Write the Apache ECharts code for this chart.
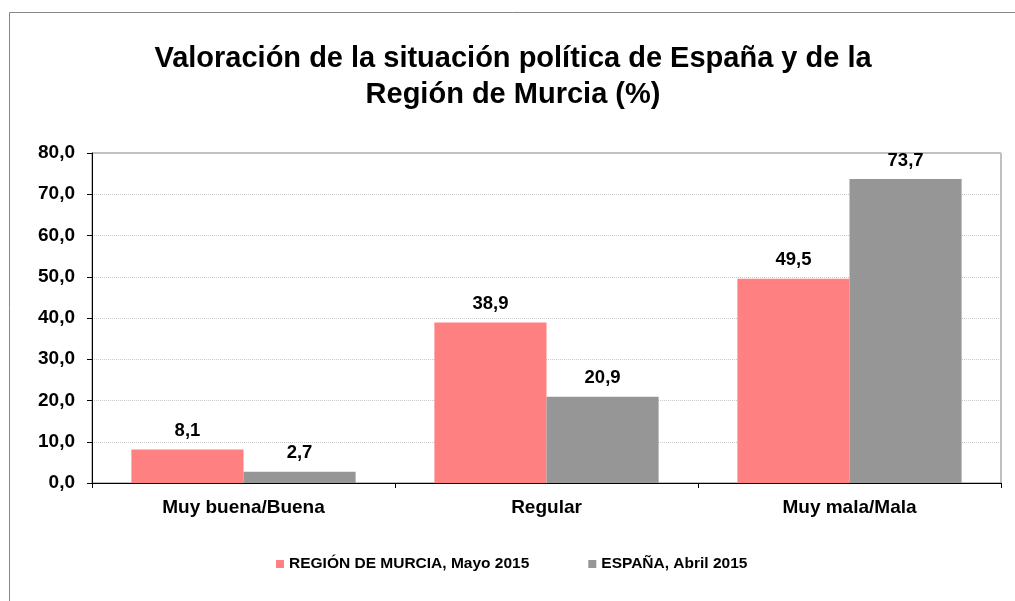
<!DOCTYPE html>
<html><head><meta charset="utf-8">
<script src="https://cdn.jsdelivr.net/npm/echarts@6/dist/echarts.min.js"></script>
<style>html,body{margin:0;padding:0;background:#fff}#c{width:1015px;height:601px}</style>
</head><body><div id="c"></div>
<script>
var categories = ["Muy buena/Buena", "Regular", "Muy mala/Mala"];
var seriesNames = ["REGIÓN DE MURCIA, Mayo 2015", "ESPAÑA, Abril 2015"];
var murcia = [8.1, 38.9, 49.5];
var espana = [2.7, 20.9, 73.7];
var fmt = function (v) { return Number(v).toFixed(1).replace('.', ','); };
var font = 'Liberation Sans, Arial, sans-serif';
var chart = echarts.init(document.getElementById('c'));
chart.setOption({
  animation: false,
  backgroundColor: '#fff',
  title: {
    text: 'Valoración de la situación política de España y de la\nRegión de Murcia (%)',
    left: 508, textAlign: 'center', top: 36,
    textStyle: { fontFamily: font, fontWeight: 'bold', fontSize: 29, color: '#000', lineHeight: 36 }
  },
  graphic: [{ type: 'rect', shape: { x: 9.5, y: 12.5, width: 1020, height: 600 }, style: { fill: 'none', stroke: '#888', lineWidth: 1 }, silent: true }],
  legend: {
    data: seriesNames, bottom: 29, left: 276, padding: 0, icon: 'rect', itemWidth: 8, itemHeight: 8, itemGap: 59,
    textStyle: { fontFamily: font, fontWeight: 'bold', fontSize: 15.5, color: '#000' }
  },
  grid: { left: 92, right: 14, top: 153, bottom: 118, show: true, borderColor: '#808080', borderWidth: 1, backgroundColor: 'transparent' },
  xAxis: {
    type: 'category', data: categories, boundaryGap: true,
    axisLine: { lineStyle: { color: '#000', width: 1 } },
    axisTick: { show: true, length: 5, lineStyle: { color: '#000' } },
    axisLabel: { fontFamily: font, fontWeight: 'bold', fontSize: 19, color: '#000', margin: 15 }
  },
  yAxis: {
    type: 'value', min: 0, max: 80, interval: 10,
    axisLine: { show: true, lineStyle: { color: '#000', width: 1 } },
    axisTick: { show: true, length: 5, lineStyle: { color: '#000' } },
    axisLabel: { formatter: fmt, fontFamily: font, fontWeight: 'bold', fontSize: 19, color: '#000', margin: 17 },
    splitLine: { show: true, lineStyle: { color: '#c8c8c8', type: 'dotted', width: 1 } }
  },
  series: [
    { name: seriesNames[0], type: 'bar', data: murcia, barGap: '0%', barCategoryGap: '26%',
      itemStyle: { color: '#FF8080' },
      label: { show: true, position: 'top', distance: 9, formatter: function (p) { return fmt(p.value); },
        fontFamily: font, fontWeight: 'bold', fontSize: 18.5, color: '#000' } },
    { name: seriesNames[1], type: 'bar', data: espana, barGap: '0%', barCategoryGap: '26%',
      itemStyle: { color: '#969696' },
      label: { show: true, position: 'top', distance: 9, formatter: function (p) { return fmt(p.value); },
        fontFamily: font, fontWeight: 'bold', fontSize: 18.5, color: '#000' } }
  ]
});
</script></body></html>
